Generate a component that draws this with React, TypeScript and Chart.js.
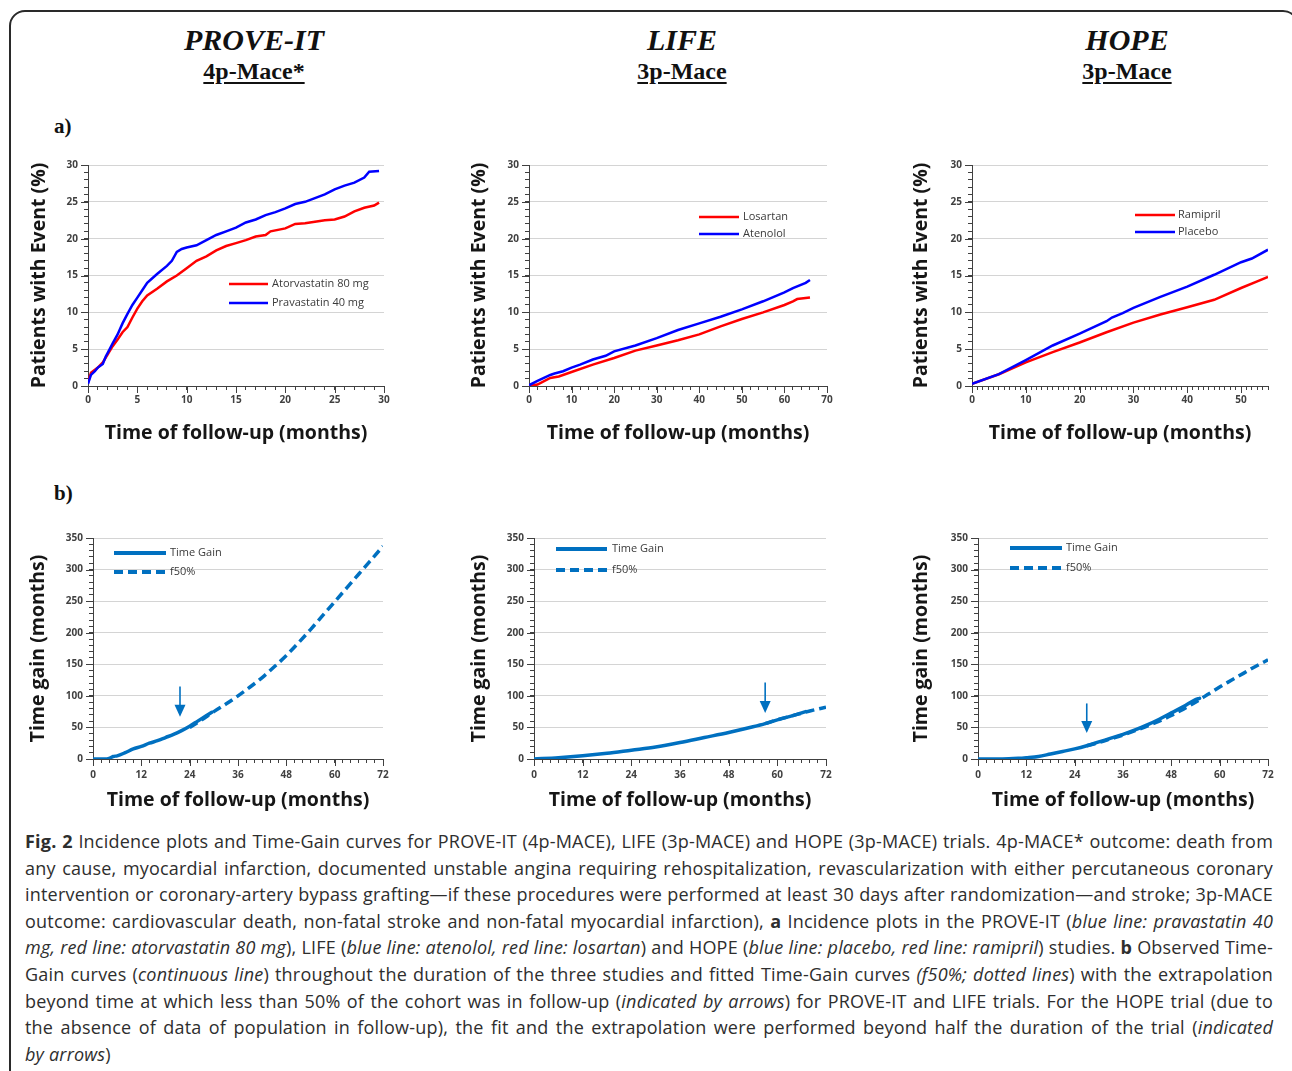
import React, { useEffect, useRef } from 'react';
import { Chart, registerables } from 'chart.js';

Chart.register(...registerables);

// ---------------- DATA ----------------
// a) PROVE-IT incidence (% patients with event)
const proveMonthsPrava = [0, 0.3, 0.7, 1, 1.5, 1.8, 2, 2.5, 3, 3.5, 4, 4.5, 5, 5.5, 6, 7, 8, 8.5, 9, 9.5, 10, 11, 12, 13, 14, 15, 16, 17, 18, 19, 20, 21, 22, 23, 24, 25, 26, 27, 28, 28.5, 29.5];
const provePrava = [0.3, 1.5, 2.0, 2.5, 3.0, 4.0, 4.5, 5.8, 7.0, 8.5, 9.8, 11.0, 12.0, 13.0, 14.0, 15.2, 16.3, 17.0, 18.2, 18.6, 18.8, 19.1, 19.8, 20.5, 21.0, 21.5, 22.2, 22.6, 23.2, 23.6, 24.1, 24.7, 25.0, 25.5, 26.0, 26.7, 27.2, 27.6, 28.3, 29.1, 29.2];
const proveMonthsAtorva = [0, 0.3, 0.7, 1, 1.5, 2, 2.5, 3, 3.5, 4, 4.5, 5, 5.5, 6, 7, 8, 9, 10, 11, 12, 13, 14, 15, 16, 17, 18, 18.5, 20, 21, 22, 23, 24, 25, 26, 27, 28, 29, 29.5];
const proveAtorva = [0.5, 1.8, 2.2, 2.5, 3.2, 4.3, 5.4, 6.3, 7.3, 8.0, 9.3, 10.5, 11.5, 12.3, 13.2, 14.2, 15.0, 16.0, 17.0, 17.6, 18.4, 19.0, 19.4, 19.8, 20.3, 20.5, 21.0, 21.4, 22.0, 22.1, 22.3, 22.5, 22.6, 23.0, 23.7, 24.2, 24.5, 24.9];

// a) LIFE incidence
const lifeMonthsAtenolol = [0, 2, 5, 6, 8, 10, 12, 15, 18, 20, 25, 30, 35, 40, 45, 50, 55, 60, 62, 65, 66];
const lifeAtenolol = [0.1, 0.7, 1.5, 1.7, 2.0, 2.5, 2.9, 3.6, 4.1, 4.7, 5.5, 6.5, 7.6, 8.5, 9.4, 10.4, 11.5, 12.7, 13.3, 14.0, 14.4];
const lifeMonthsLosartan = [0, 2, 5, 7, 10, 15, 20, 25, 30, 35, 40, 45, 50, 55, 60, 62, 63, 66];
const lifeLosartan = [0, 0.2, 1.1, 1.3, 1.9, 2.9, 3.8, 4.8, 5.5, 6.2, 7.0, 8.1, 9.1, 10.0, 11.0, 11.5, 11.8, 12.0];

// a) HOPE incidence
const hopeMonthsPlacebo = [0, 5, 10, 15, 20, 25, 26, 28, 30, 35, 40, 45, 50, 52, 55];
const hopePlacebo = [0.3, 1.6, 3.5, 5.5, 7.1, 8.8, 9.3, 9.9, 10.6, 12.1, 13.5, 15.1, 16.8, 17.3, 18.5];
const hopeMonthsRamipril = [0, 5, 10, 15, 20, 25, 30, 35, 40, 45, 50, 53, 55];
const hopeRamipril = [0.3, 1.6, 3.2, 4.6, 5.9, 7.3, 8.6, 9.7, 10.7, 11.7, 13.3, 14.2, 14.8];

// b) Time gain (months)
const gainProveMonths = [0, 3, 4, 5, 6, 8, 10, 12, 14, 16, 18, 20, 22, 24, 26, 28, 29.5];
const gainProve = [0, 0, 1, 4, 5, 10, 16, 20, 25, 29, 34, 39, 45, 52, 60, 68, 74];
const fitProveMonths = [24, 27, 30, 33, 36, 39, 42, 45, 48, 51, 54, 57, 60, 63, 66, 69, 72];
const fitProve = [50, 62, 75, 87, 100, 114, 129, 146, 164, 184, 205, 227, 249, 271, 293, 315, 337];

const gainLifeMonths = [0, 6, 12, 18, 24, 30, 36, 42, 48, 54, 57, 60, 64, 67];
const gainLife = [0, 2, 5, 9, 14, 19, 26, 34, 42, 51, 56, 62, 69, 75];
const fitLifeMonths = [57, 60, 64, 68, 72];
const fitLife = [56, 62, 69, 76, 82];

const gainHopeMonths = [0, 6, 10, 12, 15, 18, 21, 24, 27, 30, 33, 36, 39, 42, 45, 48, 51, 54, 55];
const gainHope = [0, 0, 1, 2, 4, 8, 12, 16, 21, 27, 33, 39, 46, 54, 63, 73, 83, 94, 96];
const fitHopeMonths = [27, 30, 33, 36, 39, 42, 45, 48, 51, 54, 57, 60, 63, 66, 69, 72];
const fitHope = [21, 26, 32, 38, 45, 52, 60, 69, 79, 90, 102, 114, 125, 136, 147, 157];

// arrows (month, start value, tip value)
const arrowMonths = [21.6, 57.0, 27.0];
const arrowFrom = [115, 121, 88];
const arrowTo = [67, 73, 41];

// tick labels
const incidenceYTicks = [0, 5, 10, 15, 20, 25, 30];
const proveXTicks = [0, 5, 10, 15, 20, 25, 30];
const lifeXTicks = [0, 10, 20, 30, 40, 50, 60, 70];
const hopeXTicks = [0, 10, 20, 30, 40, 50];
const gainXTicks = [0, 12, 24, 36, 48, 60, 72];
const gainYTicks = [0, 50, 100, 150, 200, 250, 300, 350];

// ---------------- STYLE / LAYOUT ----------------
const RED = '#ff0000';
const BLUE = '#0000ff';
const TG = '#0070c0';
const AXIS = '#404040';
const GRID = '#d4d4d4';
const PAD_T = 12;
const PAD_R = 16;
const TITLE_SIZE = 19.5;
const TITLE_LH = TITLE_SIZE * 1.2;
const TITLE_PAD = 2;

const pts = (xs: number[], ys: number[]) => xs.map((x, i) => ({ x, y: ys[i] }));

type LegendItem = { text: string; color: string; dash?: number[]; width: number; dy: number };
type Panel = {
  key: string;
  plot: [number, number, number, number];
  yTitleX: number;
  xTitleY: number;
  xMax: number;
  xStep: number;
  xLabels: number[];
  yMax: number;
  yStep: number;
  yLabels: number[];
  yTitle: string;
  xLabelPad: number;
  datasets: any[];
  legend: { x1: number; x2: number; tx: number; items: LegendItem[] };
  arrow?: { x: number; from: number; to: number };
};

const incidenceSets = (blueX: number[], blueY: number[], redX: number[], redY: number[]) => [
  { data: pts(blueX, blueY), borderColor: BLUE, borderWidth: 2.5, pointRadius: 0, fill: false },
  { data: pts(redX, redY), borderColor: RED, borderWidth: 2.5, pointRadius: 0, fill: false },
];

const gainSets = (gx: number[], gy: number[], fx: number[], fy: number[]) => [
  { data: pts(gx, gy), borderColor: TG, borderWidth: 3.5, pointRadius: 0, fill: false, cubicInterpolationMode: 'monotone', borderCapStyle: 'round' },
  { data: pts(fx, fy), borderColor: TG, borderWidth: 3.5, pointRadius: 0, fill: false, cubicInterpolationMode: 'monotone', borderDash: [9, 5] },
];

const gainLegend = (x1: number, x2: number, tx: number, dy1: number, dy2: number) => ({
  x1, x2, tx,
  items: [
    { text: 'Time Gain', color: TG, width: 4, dy: dy1 },
    { text: 'f50%', color: TG, width: 4, dash: [9, 5], dy: dy2 },
  ],
});

const PANELS: Panel[] = [
  {
    key: 'a1', plot: [88, 165, 384, 386], yTitleX: 40, xTitleY: 433,
    xMax: 30, xStep: 1, xLabels: proveXTicks, yMax: 30, yStep: 1, yLabels: incidenceYTicks,
    yTitle: 'Patients with Event (%)', xLabelPad: 4,
    datasets: incidenceSets(proveMonthsPrava, provePrava, proveMonthsAtorva, proveAtorva),
    legend: { x1: 141, x2: 180, tx: 184, items: [
      { text: 'Atorvastatin 80 mg', color: RED, width: 2.5, dy: 119 },
      { text: 'Pravastatin 40 mg', color: BLUE, width: 2.5, dy: 138 },
    ] },
  },
  {
    key: 'a2', plot: [529, 165, 827, 386], yTitleX: 480, xTitleY: 433,
    xMax: 70, xStep: 2, xLabels: lifeXTicks, yMax: 30, yStep: 1, yLabels: incidenceYTicks,
    yTitle: 'Patients with Event (%)', xLabelPad: 4,
    datasets: incidenceSets(lifeMonthsAtenolol, lifeAtenolol, lifeMonthsLosartan, lifeLosartan),
    legend: { x1: 170, x2: 210, tx: 214, items: [
      { text: 'Losartan', color: RED, width: 2.5, dy: 52 },
      { text: 'Atenolol', color: BLUE, width: 2.5, dy: 69 },
    ] },
  },
  {
    key: 'a3', plot: [972, 165, 1268, 386], yTitleX: 922, xTitleY: 433,
    xMax: 55, xStep: 1, xLabels: hopeXTicks, yMax: 30, yStep: 1, yLabels: incidenceYTicks,
    yTitle: 'Patients with Event (%)', xLabelPad: 4,
    datasets: incidenceSets(hopeMonthsPlacebo, hopePlacebo, hopeMonthsRamipril, hopeRamipril),
    legend: { x1: 163, x2: 203, tx: 206, items: [
      { text: 'Ramipril', color: RED, width: 2.5, dy: 50 },
      { text: 'Placebo', color: BLUE, width: 2.5, dy: 67 },
    ] },
  },
  {
    key: 'b1', plot: [93, 538, 383, 759], yTitleX: 39, xTitleY: 800,
    xMax: 72, xStep: 2, xLabels: gainXTicks, yMax: 350, yStep: 10, yLabels: gainYTicks,
    yTitle: 'Time gain (months)', xLabelPad: 6,
    datasets: gainSets(gainProveMonths, gainProve, fitProveMonths, fitProve),
    legend: gainLegend(21, 73, 77, 15, 34),
    arrow: { x: arrowMonths[0], from: arrowFrom[0], to: arrowTo[0] },
  },
  {
    key: 'b2', plot: [534, 538, 826, 759], yTitleX: 480, xTitleY: 800,
    xMax: 72, xStep: 2, xLabels: gainXTicks, yMax: 350, yStep: 10, yLabels: gainYTicks,
    yTitle: 'Time gain (months)', xLabelPad: 6,
    datasets: gainSets(gainLifeMonths, gainLife, fitLifeMonths, fitLife),
    legend: gainLegend(22, 73, 78, 11, 32),
    arrow: { x: arrowMonths[1], from: arrowFrom[1], to: arrowTo[1] },
  },
  {
    key: 'b3', plot: [978, 538, 1268, 759], yTitleX: 922, xTitleY: 800,
    xMax: 72, xStep: 2, xLabels: gainXTicks, yMax: 350, yStep: 10, yLabels: gainYTicks,
    yTitle: 'Time gain (months)', xLabelPad: 6,
    datasets: gainSets(gainHopeMonths, gainHope, fitHopeMonths, fitHope),
    legend: gainLegend(32, 84, 88, 10, 30),
    arrow: { x: arrowMonths[2], from: arrowFrom[2], to: arrowTo[2] },
  },
];

function geometry(p: Panel) {
  const [L, T, R, B] = p.plot;
  const cl = Math.round(p.yTitleX - TITLE_LH / 2 - TITLE_PAD);
  const ct = T - PAD_T;
  const cb = Math.round(p.xTitleY + TITLE_LH / 2 + TITLE_PAD);
  return { cl, ct, cw: R + PAD_R - cl, ch: cb - ct, wy: L - cl, hx: cb - B };
}

const isIn = (arr: number[], v: number) => arr.some((a) => Math.abs(a - v) < 1e-6);

function makeConfig(p: Panel, g: ReturnType<typeof geometry>) {
  const tickFont = { family: 'Open Sans', size: 10, weight: 'bold' as const };
  const titleFont = { family: 'Open Sans', size: TITLE_SIZE, weight: 'bold' as const };

  const extrasPlugin = {
    id: 'extras' + p.key,
    afterDatasetsDraw(chart: any) {
      const { ctx, chartArea } = chart;
      const xs = chart.scales.x;
      const ys = chart.scales.y;
      ctx.save();
      ctx.strokeStyle = AXIS;
      ctx.lineWidth = 1;
      ctx.setLineDash([]);
      xs.ticks.forEach((t: any) => {
        if (!isIn(p.xLabels, t.value)) return;
        const px = Math.round(xs.getPixelForValue(t.value)) + 0.5;
        ctx.beginPath();
        ctx.moveTo(px, chartArea.bottom);
        ctx.lineTo(px, chartArea.bottom + 7);
        ctx.stroke();
      });
      ys.ticks.forEach((t: any) => {
        if (!isIn(p.yLabels, t.value)) return;
        const py = Math.round(ys.getPixelForValue(t.value)) + 0.5;
        ctx.beginPath();
        ctx.moveTo(chartArea.left - 7, py);
        ctx.lineTo(chartArea.left, py);
        ctx.stroke();
      });
      p.legend.items.forEach((it) => {
        const y = chartArea.top + it.dy;
        ctx.beginPath();
        ctx.setLineDash(it.dash || []);
        ctx.lineWidth = it.width;
        ctx.strokeStyle = it.color;
        ctx.lineCap = 'butt';
        ctx.moveTo(chartArea.left + p.legend.x1, y);
        ctx.lineTo(chartArea.left + p.legend.x2, y);
        ctx.stroke();
        ctx.setLineDash([]);
        ctx.fillStyle = '#3a3a3a';
        ctx.font = '11px "Open Sans"';
        ctx.textBaseline = 'middle';
        ctx.textAlign = 'left';
        ctx.fillText(it.text, chartArea.left + p.legend.tx, y);
      });
      if (p.arrow) {
        const ax = xs.getPixelForValue(p.arrow.x);
        const y0 = ys.getPixelForValue(p.arrow.from);
        const y1 = ys.getPixelForValue(p.arrow.to);
        ctx.strokeStyle = TG;
        ctx.fillStyle = TG;
        ctx.lineWidth = 1.6;
        ctx.beginPath();
        ctx.moveTo(ax, y0);
        ctx.lineTo(ax, y1 - 10);
        ctx.stroke();
        ctx.beginPath();
        ctx.moveTo(ax - 5.5, y1 - 12);
        ctx.lineTo(ax + 5.5, y1 - 12);
        ctx.lineTo(ax, y1);
        ctx.closePath();
        ctx.fill();
      }
      ctx.restore();
    },
  };

  return {
    type: 'line',
    data: { datasets: p.datasets },
    options: {
      responsive: false,
      animation: false,
      events: [],
      layout: { autoPadding: false, padding: { left: 0, top: PAD_T, right: PAD_R, bottom: 0 } },
      plugins: { legend: { display: false }, tooltip: { enabled: false }, title: { display: false } },
      elements: { point: { radius: 0 }, line: { tension: 0 } },
      scales: {
        x: {
          type: 'linear',
          min: 0,
          max: p.xMax,
          ticks: {
            stepSize: p.xStep,
            autoSkip: false,
            maxRotation: 0,
            padding: p.xLabelPad,
            font: tickFont,
            color: AXIS,
            callback: (v: any) => (isIn(p.xLabels, Number(v)) ? String(v) : ''),
          },
          grid: { drawOnChartArea: false, drawTicks: true, tickLength: 4, tickColor: AXIS, tickWidth: 1 },
          border: { display: true, color: AXIS, width: 1 },
          title: {
            display: true,
            text: 'Time of follow-up (months)',
            font: titleFont,
            color: '#161616',
            padding: { top: 0, bottom: TITLE_PAD },
          },
          afterFit: (s: any) => {
            s.height = g.hx;
            s.paddingLeft = 0;
            s.paddingRight = 0;
          },
        },
        y: {
          type: 'linear',
          min: 0,
          max: p.yMax,
          ticks: {
            stepSize: p.yStep,
            autoSkip: false,
            padding: 6,
            font: tickFont,
            color: AXIS,
            callback: (v: any) => (isIn(p.yLabels, Number(v)) ? String(v) : ''),
          },
          grid: {
            drawOnChartArea: true,
            drawTicks: true,
            tickLength: 4,
            tickColor: AXIS,
            tickWidth: 1,
            lineWidth: 1,
            color: (c: any) => (c.tick && isIn(p.yLabels, c.tick.value) ? GRID : 'rgba(0,0,0,0)'),
          },
          border: { display: true, color: AXIS, width: 1 },
          title: {
            display: true,
            text: p.yTitle,
            font: titleFont,
            color: '#161616',
            padding: { top: TITLE_PAD, bottom: 0 },
          },
          afterFit: (s: any) => {
            s.width = g.wy;
            s.paddingTop = 0;
            s.paddingBottom = 0;
          },
        },
      },
    },
    plugins: [extrasPlugin],
  };
}

function PanelChart({ p }: { p: Panel }) {
  const ref = useRef<HTMLCanvasElement>(null);
  const g = geometry(p);
  useEffect(() => {
    const chart = new Chart(ref.current as HTMLCanvasElement, makeConfig(p, g) as any);
    return () => chart.destroy();
  }, []);
  return (
    <canvas
      ref={ref}
      width={g.cw}
      height={g.ch}
      style={{ position: 'absolute', left: g.cl, top: g.ct, width: g.cw, height: g.ch }}
    />
  );
}

const HEADERS = [
  { title: 'PROVE-IT', sub: '4p-Mace*', cx: 254 },
  { title: 'LIFE', sub: '3p-Mace', cx: 682 },
  { title: 'HOPE', sub: '3p-Mace', cx: 1127 },
];

const SERIF = '"Liberation Serif", "Times New Roman", serif';

const lineStyle: React.CSSProperties = {
  textAlign: 'justify',
  textAlignLast: 'justify',
  height: 26.6,
  overflow: 'visible',
};

export default function App() {
  return (
    <div
      style={{
        position: 'absolute',
        left: 0,
        top: 0,
        width: 1292,
        height: 1071,
        overflow: 'hidden',
        background: '#ffffff',
      }}
    >
      <div
        style={{
          position: 'absolute',
          left: 9,
          top: 10,
          width: 1290,
          height: 1200,
          border: '2px solid #2a2a2a',
          borderRadius: 16,
          boxSizing: 'border-box',
        }}
      />
      {HEADERS.map((h) => (
        <React.Fragment key={h.title}>
          <div
            style={{
              position: 'absolute',
              left: h.cx - 150,
              width: 300,
              top: 25,
              textAlign: 'center',
              fontFamily: SERIF,
              fontWeight: 'bold',
              fontStyle: 'italic',
              fontSize: 30,
              lineHeight: '30px',
              color: '#111',
            }}
          >
            {h.title}
          </div>
          <div
            style={{
              position: 'absolute',
              left: h.cx - 150,
              width: 300,
              top: 59,
              textAlign: 'center',
              fontFamily: SERIF,
              fontWeight: 'bold',
              fontSize: 24,
              lineHeight: '24px',
              color: '#111',
              textDecoration: 'underline',
              textDecorationThickness: 2,
              textUnderlineOffset: 3,
            }}
          >
            {h.sub}
          </div>
        </React.Fragment>
      ))}
      <div style={{ position: 'absolute', left: 54, top: 116, fontFamily: SERIF, fontWeight: 'bold', fontSize: 21, lineHeight: '21px', color: '#111' }}>
        a)
      </div>
      <div style={{ position: 'absolute', left: 54, top: 483, fontFamily: SERIF, fontWeight: 'bold', fontSize: 21, lineHeight: '21px', color: '#111' }}>
        b)
      </div>

      {PANELS.map((p) => (
        <PanelChart key={p.key} p={p} />
      ))}

      <div
        style={{
          position: 'absolute',
          left: 25,
          top: 828,
          width: 1248,
          fontFamily: '"Open Sans", sans-serif',
          fontSize: 18,
          letterSpacing: '0.2px',
          lineHeight: '26.6px',
          color: '#2e2e2e',
        }}
      >
        <div style={lineStyle}>
          <b>Fig. 2</b> Incidence plots and Time-Gain curves for PROVE-IT (4p-MACE), LIFE (3p-MACE) and HOPE (3p-MACE) trials. 4p-MACE* outcome: death from
        </div>
        <div style={lineStyle}>
          any cause, myocardial infarction, documented unstable angina requiring rehospitalization, revascularization with either percutaneous coronary
        </div>
        <div style={lineStyle}>
          intervention or coronary-artery bypass grafting—if these procedures were performed at least 30 days after randomization—and stroke; 3p-MACE
        </div>
        <div style={lineStyle}>
          outcome: cardiovascular death, non-fatal stroke and non-fatal myocardial infarction), <b>a</b> Incidence plots in the PROVE-IT (<i>blue line: pravastatin 40</i>
        </div>
        <div style={lineStyle}>
          <i>mg, red line: atorvastatin 80 mg</i>), LIFE (<i>blue line: atenolol, red line: losartan</i>) and HOPE (<i>blue line: placebo, red line: ramipril</i>) studies. <b>b</b> Observed Time-
        </div>
        <div style={lineStyle}>
          Gain curves (<i>continuous line</i>) throughout the duration of the three studies and fitted Time-Gain curves <i>(f50%; dotted lines</i>) with the extrapolation
        </div>
        <div style={lineStyle}>
          beyond time at which less than 50% of the cohort was in follow-up (<i>indicated by arrows</i>) for PROVE-IT and LIFE trials. For the HOPE trial (due to
        </div>
        <div style={lineStyle}>
          the absence of data of population in follow-up), the fit and the extrapolation were performed beyond half the duration of the trial (<i>indicated</i>
        </div>
        <div style={{ ...lineStyle, textAlign: 'left', textAlignLast: 'left' }}>
          <i>by arrows</i>)
        </div>
      </div>
    </div>
  );
}
